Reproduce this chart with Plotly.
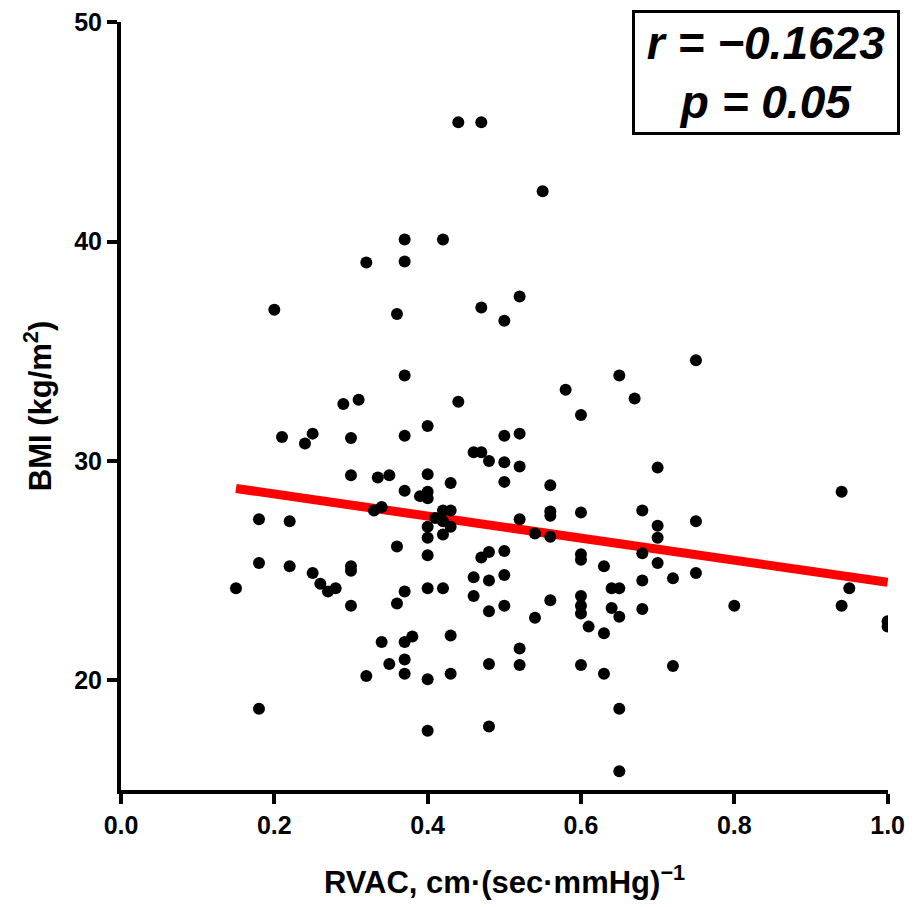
import plotly.graph_objects as go

rvac = [0.44, 0.47, 0.55, 0.37, 0.42, 0.37, 0.32, 0.20, 0.36, 0.47, 0.52, 0.50,
        0.37, 0.44, 0.58, 0.65, 0.60, 0.75, 0.67,
        0.29, 0.31, 0.21, 0.24, 0.25, 0.30, 0.37, 0.40, 0.50, 0.52,
        0.46, 0.47, 0.48, 0.50, 0.52, 0.70,
        0.30, 0.335, 0.35, 0.40, 0.37, 0.43, 0.50, 0.56, 0.39, 0.40, 0.40,
        0.33, 0.34, 0.42, 0.43, 0.41, 0.42, 0.43, 0.40, 0.40, 0.42, 0.52,
        0.56, 0.56, 0.54, 0.56, 0.60, 0.94, 0.68, 0.70, 0.70, 0.75,
        0.18, 0.22, 0.18, 0.22, 0.25, 0.26, 0.27, 0.28, 0.30, 0.30, 0.15,
        0.36, 0.40, 0.48, 0.47, 0.50, 0.60, 0.60, 0.63, 0.68, 0.70, 0.72, 0.75, 0.68,
        0.46, 0.48, 0.50, 0.37, 0.40, 0.42, 0.30, 0.36, 0.46, 0.48, 0.50, 0.56,
        0.54, 0.60, 0.60, 0.60, 0.61, 0.64, 0.65, 0.64, 0.65, 0.63, 0.68, 0.80,
        0.95, 0.94, 1.00, 1.00,
        0.34, 0.37, 0.38, 0.35, 0.37, 0.37, 0.32, 0.40, 0.43, 0.43, 0.48, 0.52,
        0.52, 0.60, 0.63, 0.72, 0.18, 0.65, 0.40, 0.48, 0.65]

bmi = [45.45, 45.45, 42.3, 40.1, 40.1, 39.1, 39.05, 36.9, 36.7, 37.0, 37.5, 36.4,
       33.9, 32.7, 33.25, 33.9, 32.1, 34.6, 32.85,
       32.6, 32.8, 31.1, 30.8, 31.25, 31.05, 31.15, 31.6, 31.15, 31.25,
       30.4, 30.4, 30.0, 29.95, 29.75, 29.7,
       29.35, 29.25, 29.35, 29.4, 28.65, 29.0, 29.05, 28.9, 28.4, 28.6, 28.3,
       27.75, 27.9, 27.75, 27.75, 27.4, 27.25, 27.0, 27.0, 26.5, 26.65, 27.35,
       27.7, 27.5, 26.7, 26.55, 27.65, 28.6, 27.75, 27.05, 26.5, 27.25,
       27.35, 27.25, 25.35, 25.2, 24.9, 24.4, 24.05, 24.2, 25.2, 25.0, 24.2,
       26.1, 25.7, 25.85, 25.6, 25.9, 25.75, 25.5, 25.2, 25.8, 25.35, 24.65, 24.9, 24.55,
       24.7, 24.55, 24.8, 24.05, 24.2, 24.2, 23.4, 23.5, 23.85, 23.15, 23.4, 23.65,
       22.85, 23.85, 23.4, 23.05, 22.45, 24.2, 24.2, 23.3, 22.9, 22.15, 23.25, 23.4,
       24.2, 23.4, 22.7, 22.45,
       21.75, 21.75, 22.0, 20.75, 20.95, 20.3, 20.2, 20.05, 22.05, 20.3, 20.75, 21.45,
       20.7, 20.7, 20.3, 20.65, 18.7, 18.7, 17.7, 17.9, 15.85]

fit_x = [0.15, 1.0]
fit_y = [28.75, 24.47]

x_ticks = [0.0, 0.2, 0.4, 0.6, 0.8, 1.0]
x_tick_labels = ["0.0", "0.2", "0.4", "0.6", "0.8", "1.0"]
y_ticks = [20, 30, 40, 50]
y_tick_labels = ["20", "30", "40", "50"]

font_family = "Liberation Sans, Arial, sans-serif"

fig = go.Figure()
fig.add_trace(go.Scatter(x=fit_x, y=fit_y, mode="lines",
                         line=dict(color="#ff0000", width=9), showlegend=False))
fig.add_trace(go.Scatter(x=rvac, y=bmi, mode="markers",
                         marker=dict(color="black", size=12, line=dict(width=0)),
                         showlegend=False))

# page body has an 8px default margin, so the figure is sized to fit the window
fig.update_layout(
    width=906, height=899,
    margin=dict(l=113, r=26, t=14, b=117, autoexpand=False),
    plot_bgcolor="white", paper_bgcolor="white",
    font=dict(family=font_family, color="black"),
    xaxis=dict(range=[0, 1.0005], tickvals=x_ticks, ticktext=x_tick_labels,
               automargin=False,
               showgrid=False, zeroline=False, showline=True, linecolor="black",
               linewidth=4, ticks="outside", ticklen=10, tickwidth=4, tickcolor="black",
               tickfont=dict(size=25, family=font_family, weight="bold"),
               title=dict(text="<b>RVAC, cm·(sec·mmHg)<sup>−1</sup></b>",
                          font=dict(size=31, family=font_family), standoff=34)),
    yaxis=dict(range=[15, 50.02], tickvals=y_ticks, ticktext=y_tick_labels,
               automargin=False,
               showgrid=False, zeroline=False, showline=True, linecolor="black",
               linewidth=4, ticks="outside", ticklen=10, tickwidth=4, tickcolor="black",
               tickfont=dict(size=25, family=font_family, weight="bold"),
               title=dict(text="<b>BMI (kg/m<sup>2</sup>)</b>",
                          font=dict(size=31, family=font_family), standoff=14)),
)

fig.add_annotation(
    xref="paper", yref="paper", x=0.841, y=0.934, xanchor="center", yanchor="middle",
    text="<b><i>r = −0.1623</i></b><br><b><i>p = 0.05</i></b>",
    showarrow=False, align="center", width=262, height=119,
    font=dict(size=46, family=font_family, color="black"),
    bordercolor="black", borderwidth=3, borderpad=0, bgcolor="white",
)

fig.write_html("out.html")
